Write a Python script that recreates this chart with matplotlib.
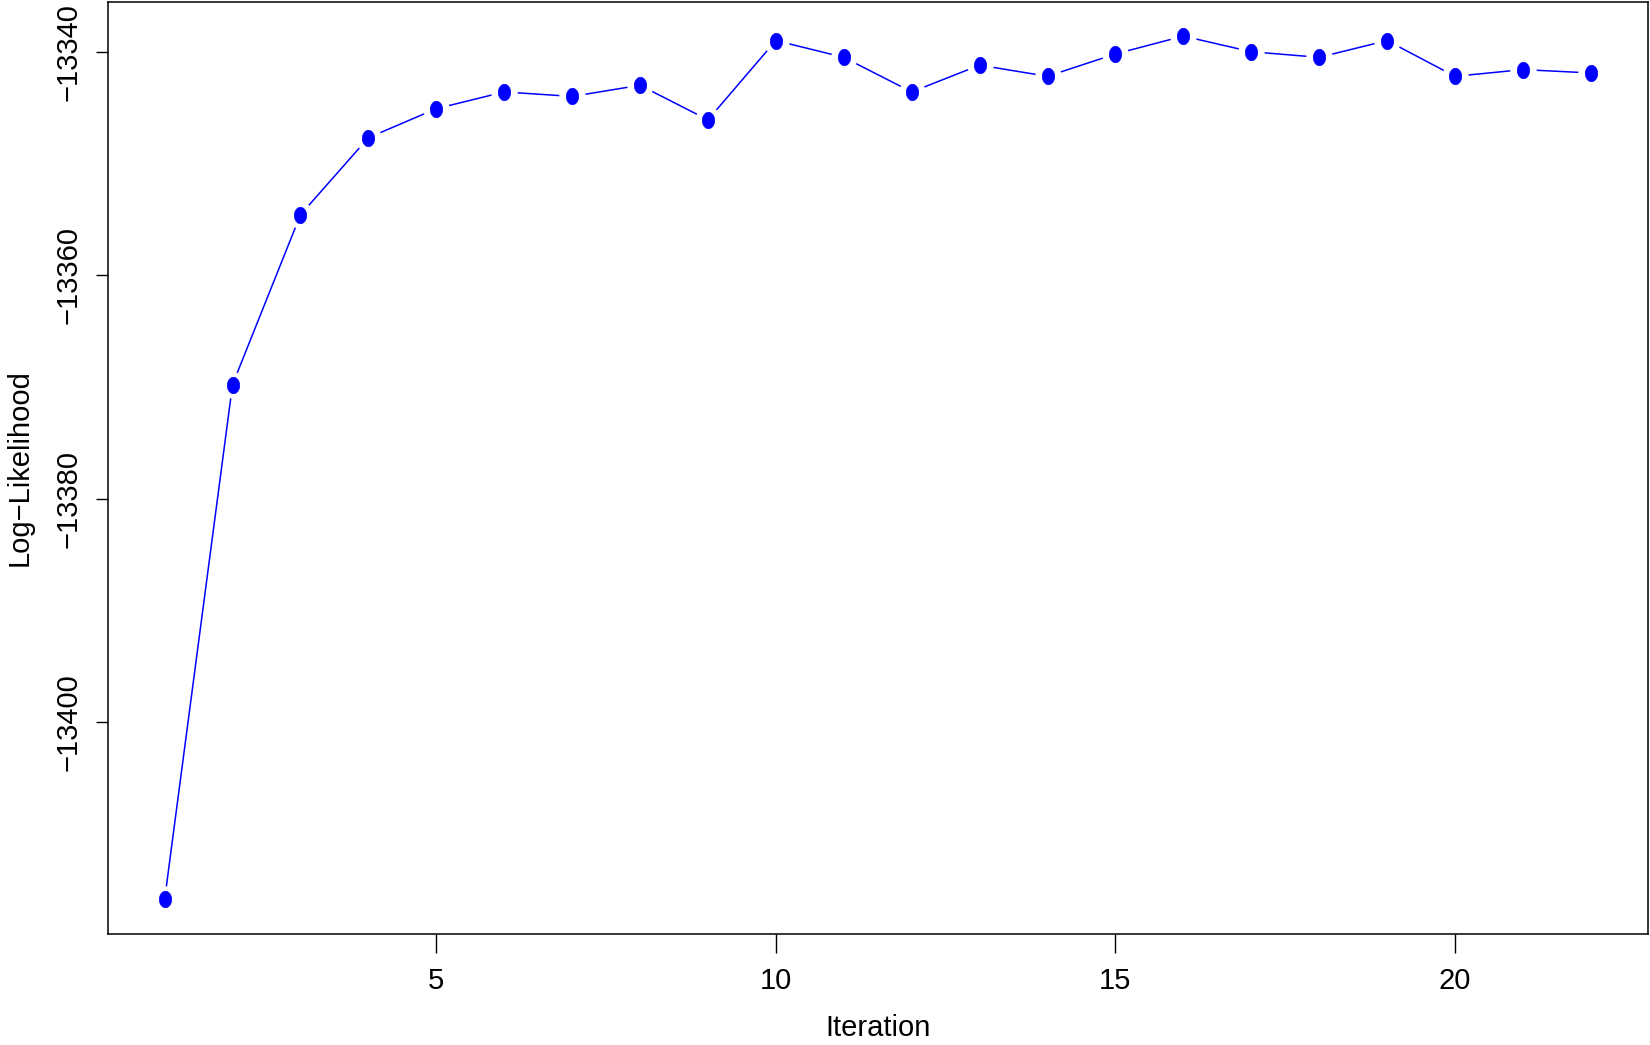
import numpy as np
import matplotlib
matplotlib.use('Agg')
import matplotlib.pyplot as plt
from matplotlib.path import Path

# Log-likelihood per iteration
iterations = list(range(1, 23))
loglik = [-13415.9, -13369.8, -13354.6, -13347.7, -13345.1, -13343.6,
          -13344.0, -13343.0, -13346.1, -13339.0, -13340.5, -13343.6,
          -13341.2, -13342.2, -13340.2, -13338.6, -13340.0, -13340.5,
          -13339.0, -13342.2, -13341.6, -13341.9]
x_ticks = [5, 10, 15, 20]
y_ticks = [-13400, -13380, -13360, -13340]

plt.rcParams['font.family'] = ['Liberation Sans', 'DejaVu Sans']

fig = plt.figure(figsize=(16.5, 10.45), dpi=100)
ax = fig.add_axes([0.0652, 0.1062, 0.9335, 0.8923])

# slightly tall ellipse marker, like the stretched R points
t = np.linspace(0, 2 * np.pi, 60)
ellipse = Path(np.column_stack([0.75 * np.cos(t), np.sin(t)]))

# R type="b": line with gaps around the points
ax.plot(iterations, loglik, color='blue', linewidth=1.1, zorder=1)
ax.plot(iterations, loglik, linestyle='none', marker='o', markersize=18,
        markerfacecolor='white', markeredgecolor='white', zorder=2)
ax.plot(iterations, loglik, linestyle='none', marker=ellipse, markersize=11.8,
        markerfacecolor='blue', markeredgecolor='blue', markeredgewidth=0.5, zorder=3)

# R default 4% axis extension
xr = max(iterations) - min(iterations)
yr = max(loglik) - min(loglik)
ax.set_xlim(min(iterations) - 0.04 * xr, max(iterations) + 0.04 * xr)
ax.set_ylim(min(loglik) - 0.04 * yr, max(loglik) + 0.04 * yr)

ax.set_xticks(x_ticks)
ax.set_yticks(y_ticks)
ax.set_yticklabels([str(v).replace('-', '\u2212') for v in y_ticks],
                   rotation=90, va='center')
ax.tick_params(axis='x', length=13.7, width=1, labelsize=21, pad=10)
ax.tick_params(axis='y', length=8.9, width=1, labelsize=21, pad=9)

for s in ax.spines.values():
    s.set_linewidth(1.1)

ax.set_xlabel('Iteration', fontsize=21, labelpad=14)
ax.set_ylabel('Log\u2212Likelihood', fontsize=21, labelpad=15)

fig.savefig('out.png', dpi=100)
